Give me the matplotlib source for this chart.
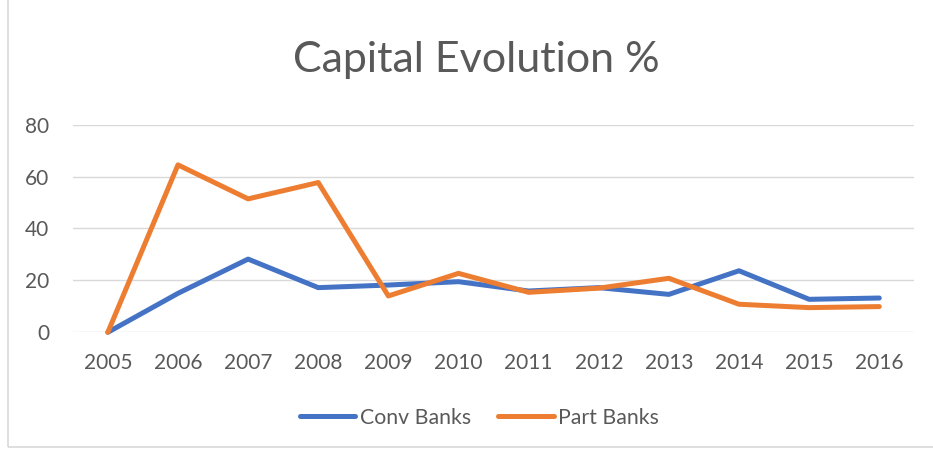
import matplotlib
matplotlib.use("Agg")
import matplotlib.pyplot as plt
from matplotlib.patches import Rectangle

years = ["2005", "2006", "2007", "2008", "2009", "2010", "2011", "2012", "2013", "2014", "2015", "2016"]
conv_banks = [0, 15.0, 28.2, 17.2, 18.2, 19.5, 15.9, 17.2, 14.6, 23.7, 12.7, 13.2]
part_banks = [0, 64.5, 51.4, 57.7, 14.0, 22.7, 15.4, 17.0, 20.8, 10.8, 9.5, 9.9]
yticks = [0, 20, 40, 60, 80]

plt.rcParams['font.family'] = ['Lato', 'DejaVu Sans']
fig = plt.figure(figsize=(9.33, 4.5), dpi=100)
ax = fig.add_axes([0.078, 0.2616, 0.902, 0.4614])

x = list(range(len(years)))
ax.plot(x, conv_banks, color='#4472C4', lw=3.6, solid_capstyle='round', solid_joinstyle='round',
        label='Conv Banks', zorder=3, clip_on=False)
ax.plot(x, part_banks, color='#ED7D31', lw=3.6, solid_capstyle='round', solid_joinstyle='round',
        label='Part Banks', zorder=4, clip_on=False)

ax.set_xlim(-0.5, len(years) - 0.5)
ax.set_ylim(0, 80)
ax.set_yticks(yticks)
ax.set_xticks(x)
ax.set_xticklabels(years)
ax.grid(axis='y', color='#D9D9D9', lw=1.0)
ax.set_axisbelow(True)
for s in ax.spines.values():
    s.set_visible(False)
ax.tick_params(length=0, labelsize=15, colors='#595959')
ax.tick_params(axis='x', pad=15)
ax.tick_params(axis='y', pad=17)

fig.text(0.51, 0.867, 'Capital Evolution %', ha='center', va='center', fontsize=31, color='#595959')

leg = fig.legend(loc='center', bbox_to_anchor=(0.514, 0.072), ncol=2, frameon=False,
                 fontsize=15.3, handlelength=2.6, columnspacing=1.3, handletextpad=0.2)
for t in leg.get_texts():
    t.set_color('#595959')
for h in leg.get_lines():
    h.set_linewidth(3.6)
    h.set_solid_capstyle('round')

fig.patches.append(Rectangle((8/933, 3/450), 1.5, 1.5, transform=fig.transFigure,
                             fill=False, edgecolor='#D9D9D9', lw=1.2))

fig.savefig('out.png', dpi=100, facecolor='white')
